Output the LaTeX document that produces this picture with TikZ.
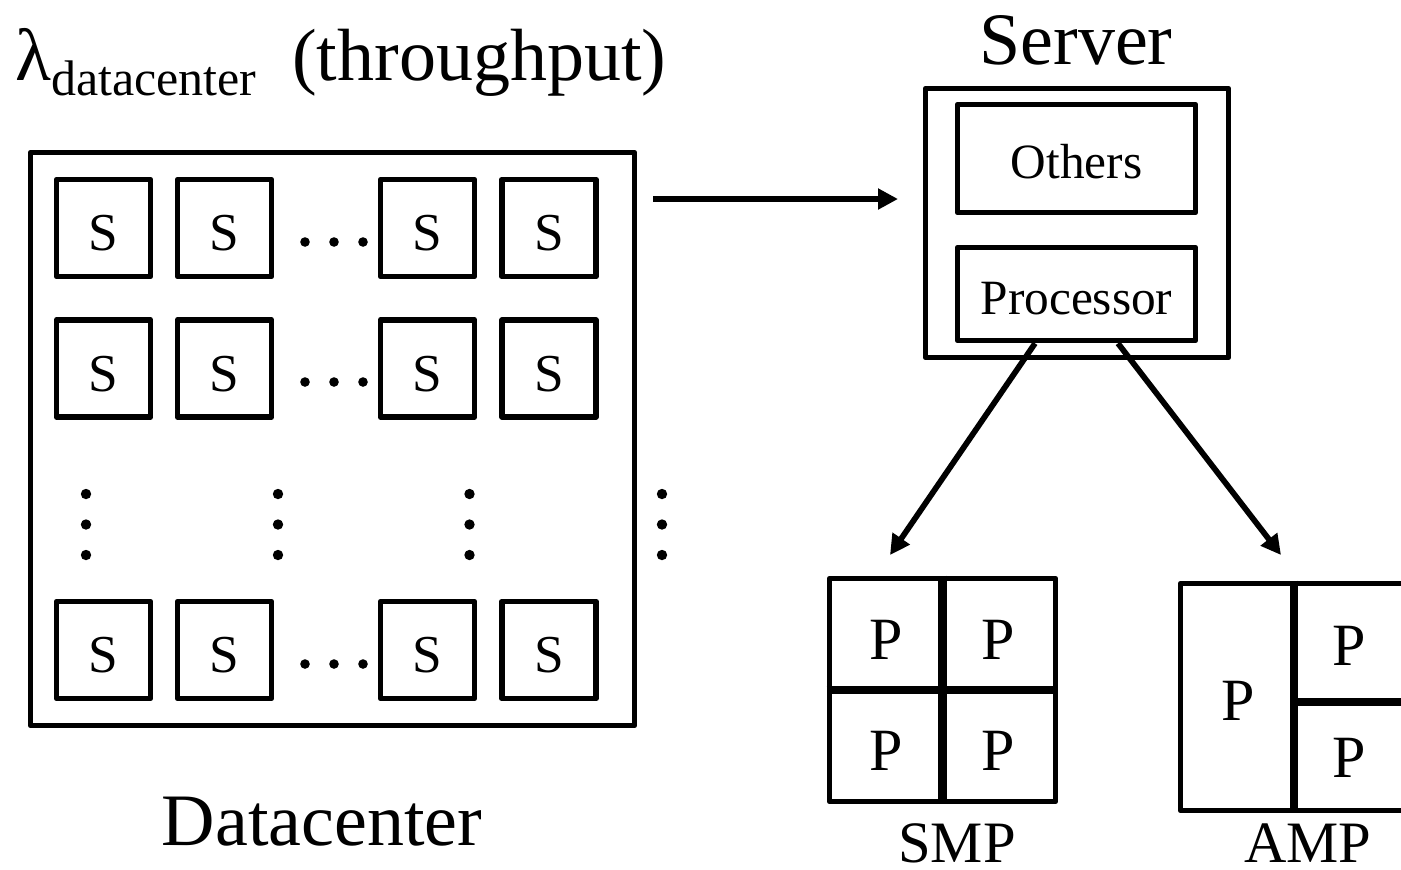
\documentclass[tikz,border=0pt]{standalone}
\usepackage{fontspec}
\setmainfont{Liberation Serif}
\usetikzlibrary{arrows.meta,calc}
\begin{document}
\begin{tikzpicture}[x=0.75pt,y=-0.75pt,
  box/.style={draw, line width=4.3pt, line join=round, inner sep=0pt},
  sbox/.style={box, minimum width=70.5pt, minimum height=72.75pt,
    text height=34pt, text depth=0pt, font=\fontsize{40}{40}\selectfont},
  part/.style={box, minimum width=178.5pt, text height=30pt, text depth=0pt,
    font=\fontsize{37}{37}\selectfont},
  ptxt/.style={inner sep=0pt, font=\fontsize{45}{45}\selectfont},
  bigtxt/.style={inner sep=0pt, anchor=base, font=\fontsize{55.5}{60}\selectfont},
  captxt/.style={inner sep=0pt, anchor=base, font=\fontsize{44}{48}\selectfont},
  divider/.style={line width=6.5pt},
  arr/.style={line width=4.3pt, -{Triangle[length=15pt,width=15pt]}}
]
\useasboundingbox (0,0) rectangle (1401,869);
\clip (0,0) rectangle (1401,869);

% datacenter: grid of servers
\node[box, minimum width=453pt, minimum height=429.75pt] (dc) at (332.5,439) {};
\foreach \r/\y in {1/228,2/368.5,3/650}
  \foreach \c/\x in {1/103.5,2/224.5,3/427.5,4/549}
    \node[sbox] (s\r\c) at (\x,\y) {S};
% horizontal ellipses between columns
\foreach \y in {242,382,664}
  \foreach \x in {305,334,363}
    \fill (\x,\y) circle[radius=3.6pt];
% vertical ellipses between rows
\foreach \x in {86,278,469.5,662}
  \foreach \y in {494,524.5,555}
    \fill (\x,\y) circle[radius=3.9pt];

\node[bigtxt, anchor=base west] (lam) at (15,80)
  {λ\raisebox{-11.25pt}{\fontsize{37.5}{40}\selectfont datacenter}};
\node[bigtxt, anchor=base west] (thr) at (292,80) {(throughput)};
\node[bigtxt] (dclabel) at (322,845) {Datacenter};

% server
\node[bigtxt] (srvlabel) at (1076,64) {Server};
\node[box, minimum width=227.25pt, minimum height=201.75pt] (srv) at (1077,223) {};
\node[part, minimum height=81pt] (oth) at (1076.5,158.5) {Others};
\node[part, minimum height=69.75pt] (proc) at (1076.5,294) {Processor};

% symmetric multiprocessor
\node[box, minimum width=169.5pt, minimum height=167.25pt] (smp) at (942.5,690) {};
\draw[divider] (smp.north) -- (smp.south);
\draw[divider] (smp.west) -- (smp.east);
\node[ptxt] (p1) at (886,640) {P};
\node[ptxt] (p2) at (998,640) {P};
\node[ptxt] (p3) at (886,751) {P};
\node[ptxt] (p4) at (998,751) {P};
\node[captxt] (smplabel) at (957,862) {SMP};

% asymmetric multiprocessor
\node[box, minimum width=170.25pt, minimum height=170.25pt] (amp) at (1294,697) {};
\draw[divider] (amp.north) -- (amp.south);
\draw[divider] ($(amp.center)+(0,5)$) -- ($(amp.east)+(0,5)$);
\node[ptxt] (p5) at (1238,701) {P};
\node[ptxt] (p6) at (1349,646) {P};
\node[ptxt] (p7) at (1349,758) {P};
\node[captxt] (amplabel) at (1308,862) {AMP};

% connectors
\coordinate (dcout) at (653,199);
\coordinate (srvin) at (898,199);
\draw[arr] (dcout) -- (srvin);
\coordinate (smpin) at (890,555);
\coordinate (ampin) at (1281,555);
\draw[arr] ($(proc.south)+(-41.5,0)$) -- (smpin);
\draw[arr] ($(proc.south)+(41.5,0)$) -- (ampin);
\end{tikzpicture}
\end{document}
